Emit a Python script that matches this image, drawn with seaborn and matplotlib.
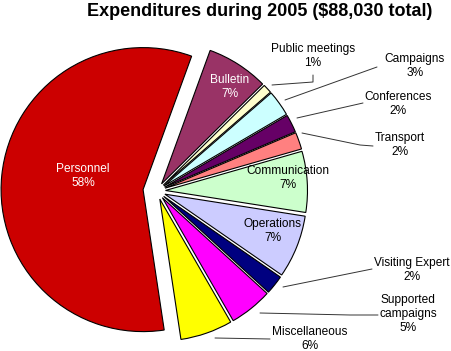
import matplotlib
matplotlib.use("Agg")
import matplotlib.pyplot as plt
import seaborn as sns

# ---- data ----
categories = ["Bulletin", "Public meetings", "Campaigns", "Conferences", "Transport",
              "Communication", "Operations", "Visiting Expert", "Supported\ncampaigns",
              "Miscellaneous", "Personnel"]
amounts = [6200, 900, 2600, 1800, 1700, 6100, 6300, 1900, 4300, 5230, 51000]
title_text = "Expenditures during 2005 ($88,030 total)"

colors = ["#993366", "#FFFFCC", "#CCFFFF", "#660066", "#FF8080", "#CCFFCC",
          "#CCCCFF", "#000080", "#FF00FF", "#FFFF00", "#CC0000"]

sns.set_theme(style="white")
plt.rcParams['font.family'] = ['Liberation Sans', 'DejaVu Sans']

W, H = 452, 351
fig = plt.figure(figsize=(W / 100, H / 100), dpi=100)
ax = fig.add_axes([0, 0, 1, 1])

def Y(y):
    return H - y

# explode offsets in data units (pixels here)
explode = [8.5] * 10 + [14.0]
total = sum(amounts)

ax.pie(amounts, colors=sns.color_palette(colors), explode=explode, startangle=70,
       counterclock=False, center=(157, Y(191)), radius=142, frame=True,
       wedgeprops=dict(edgecolor="black", linewidth=0.8))

ax.set_xlim(0, W)
ax.set_ylim(0, H)
ax.set_aspect('equal')
ax.axis('off')

pct = [f"{round(a / total * 100)}%" for a in amounts]

# label positions (image pixel coords) and colours
label_pos = [(230, 87), (313, 56), (415, 66), (398, 104), (400, 145), (288, 178),
             (273, 231), (412, 270), (408, 314), (310, 339), (83, 176)]
label_col = ["white", "black", "black", "black", "black", "black", "black",
             "black", "black", "black", "white"]

for name, p, (x, y), c in zip(categories, pct, label_pos, label_col):
    ax.text(x, Y(y), f"{name}\n{p}", ha="center", va="center", fontsize=8.6,
            color=c, linespacing=1.25)

# leader lines
leaders = [
    [(313, 75), (313, 82), (272, 85)],
    [(377, 67), (285, 100)],
    [(363, 103), (297, 118)],
    [(373, 146), (360, 145), (302, 133)],
    [(372, 269), (283, 287)],
    [(378, 315), (350, 315), (260, 313)],
    [(270, 339), (215, 338)],
]
for pts in leaders:
    ax.plot([p[0] for p in pts], [Y(p[1]) for p in pts], color="#333333", lw=0.7)

ax.text(260, Y(12), title_text, ha="center", va="center", fontsize=13,
        fontweight="bold", color="black")

fig.savefig("out.png", dpi=100)
